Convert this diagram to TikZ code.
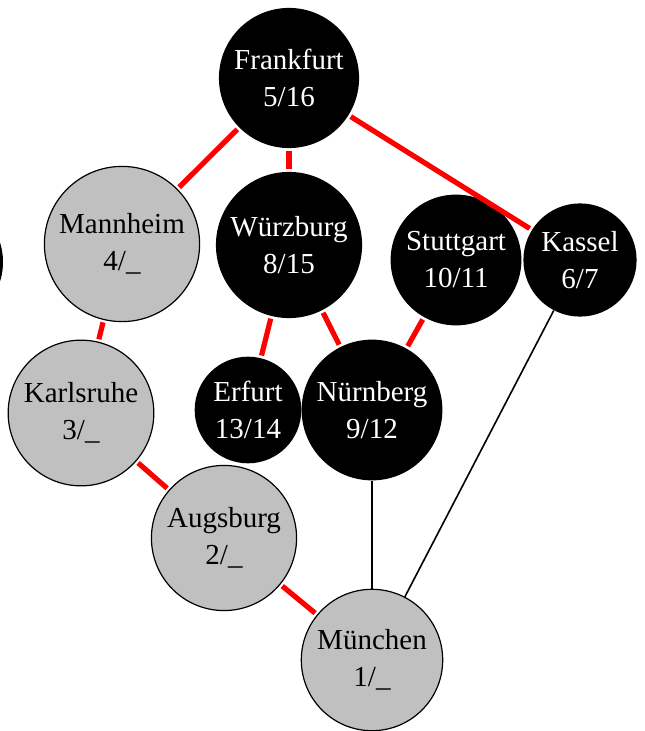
\documentclass[tikz,border=0pt]{standalone}
\usepackage{fontspec}
\setmainfont{Liberation Serif}
\definecolor{visited}{HTML}{C0C0C0}
\definecolor{treered}{HTML}{FF0000}
\tikzset{
  finished/.style={circle, fill=black, text=white, align=center,
                   font=\fontsize{14.5}{18.5}\selectfont, inner sep=3pt},
  reached/.style={circle, draw=black, line width=0.6pt, fill=visited, text=black,
                  align=center, font=\fontsize{14.5}{18.5}\selectfont, inner sep=3pt},
  treeedge/.style={line width=2.6pt, draw=treered, shorten <=1.2pt, shorten >=1.2pt},
  otheredge/.style={line width=0.8pt, draw=black},
}
\begin{document}
\begin{tikzpicture}[x=0.5pt, y=-0.5pt]
  \useasboundingbox (0,0) rectangle (644,731);
  % cities
  \node[finished, minimum size=65pt] (west) at (-62,262) {};
  \node[finished] (frankfurt) at (289,78) {Frankfurt\\5/16};
  \node[reached] (mannheim) at (122,244) {Mannheim\\4/\_};
  \node[finished] (wuerzburg) at (289,245) {Würzburg\\8/15};
  \node[finished] (stuttgart) at (456,260) {Stuttgart\\10/11};
  \node[finished] (kassel) at (580,260) {Kassel\\6/7};
  \node[reached] (karlsruhe) at (81,413) {Karlsruhe\\3/\_};
  \node[finished] (erfurt) at (248,410) {Erfurt\\13/14};
  \node[finished] (nuernberg) at (372,410) {Nürnberg\\9/12};
  \node[reached] (augsburg) at (224,538) {Augsburg\\2/\_};
  \node[reached] (muenchen) at (372,660) {München\\1/\_};
  % tree edges
  \draw[treeedge] (frankfurt) -- (mannheim);
  \draw[treeedge] (frankfurt) -- (wuerzburg);
  \draw[treeedge] (frankfurt) -- (kassel);
  \draw[treeedge] (mannheim) -- (karlsruhe);
  \draw[treeedge] (wuerzburg) -- (erfurt);
  \draw[treeedge] (wuerzburg) -- (nuernberg);
  \draw[treeedge] (stuttgart) -- (nuernberg);
  \draw[treeedge] (karlsruhe) -- (augsburg);
  \draw[treeedge] (augsburg) -- (muenchen);
  % remaining edges
  \draw[otheredge] (nuernberg) -- (muenchen);
  \draw[otheredge] (kassel) -- (muenchen);
\end{tikzpicture}
\end{document}
